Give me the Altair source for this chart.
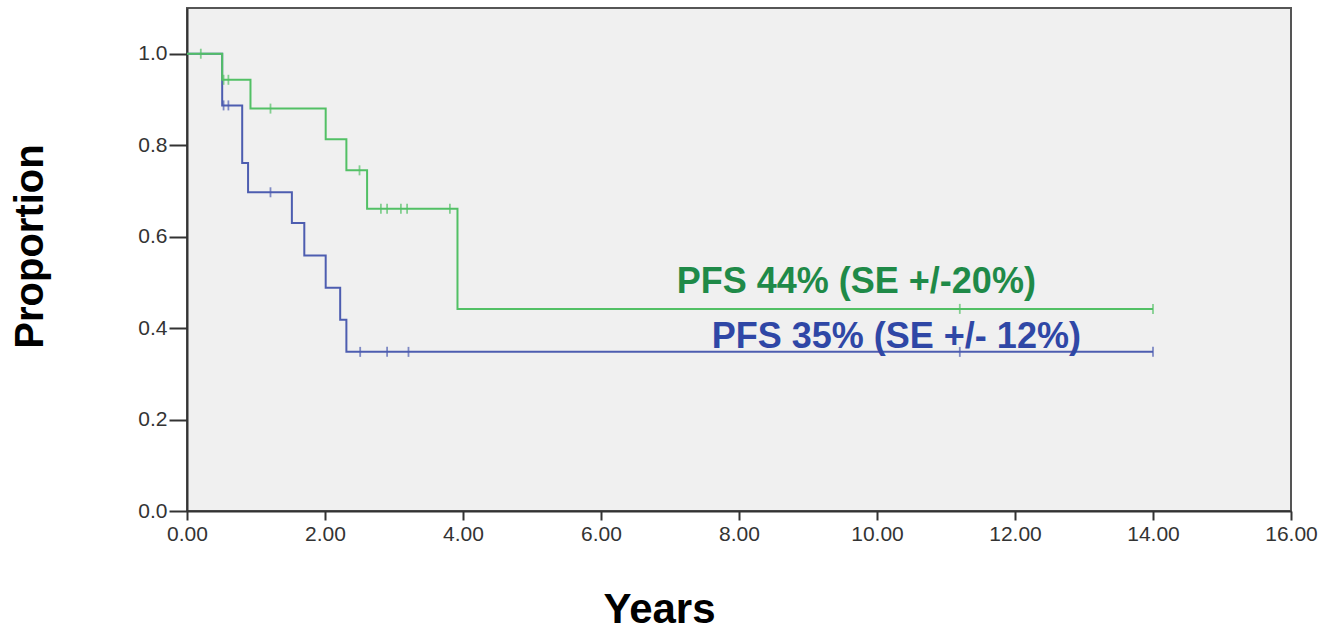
import altair as alt
import pandas as pd

# Kaplan-Meier step curves
green_times = [0, 0.51, 0.92, 2.01, 2.31, 2.61, 3.92, 14.0]
green_surv = [1.0, 0.943, 0.880, 0.813, 0.745, 0.661, 0.442, 0.442]
green_cens_t = [0.2, 0.53, 0.6, 1.21, 2.50, 2.81, 2.90, 3.10, 3.19, 3.81, 11.2, 14.0]

blue_times = [0, 0.51, 0.80, 0.885, 1.52, 1.70, 2.01, 2.22, 2.31, 14.0]
blue_surv = [1.0, 0.887, 0.761, 0.697, 0.630, 0.559, 0.488, 0.418, 0.348, 0.348]
blue_cens_t = [0.53, 0.6, 1.21, 2.51, 2.90, 3.21, 11.2, 14.0]

labels = ["PFS 44% (SE +/-20%)", "PFS 35% (SE +/- 12%)"]
label_x = [9.70, 10.28]
label_y = [0.50, 0.38]

x_ticks = [0, 2, 4, 6, 8, 10, 12, 14, 16]
y_ticks = [0.0, 0.2, 0.4, 0.6, 0.8, 1.0]

GREEN = "#52c065"
BLUE = "#4d5db0"
GREEN_TXT = "#1f8a48"
BLUE_TXT = "#2f47a6"


def step_value(times, surv, t):
    v = surv[0]
    for ti, si in zip(times, surv):
        if ti <= t:
            v = si
    return v


green_df = pd.DataFrame({"t": green_times, "s": green_surv})
blue_df = pd.DataFrame({"t": blue_times, "s": blue_surv})
green_c = pd.DataFrame({"t": green_cens_t,
                        "s": [step_value(green_times, green_surv, t) for t in green_cens_t]})
blue_c = pd.DataFrame({"t": blue_cens_t,
                       "s": [step_value(blue_times, blue_surv, t) for t in blue_cens_t]})
texts = pd.DataFrame({"label": labels, "t": label_x, "s": label_y})

x_enc = alt.X(
    "t:Q",
    scale=alt.Scale(domain=[0, 16], nice=False, zero=False),
    axis=alt.Axis(
        values=x_ticks, format=".2f", title="Years", grid=False,
        labelFontSize=21, labelFont="Liberation Sans", labelColor="#333333",
        tickSize=9, tickWidth=2, tickColor="#333333",
        domainColor="#333333", domainWidth=2, labelPadding=3,
        titleFontSize=42, titleFont="Liberation Sans", titleFontWeight="bold",
        titleColor="#000000", titleX=472, titleY=98, titleBaseline="middle",
        titleAnchor="middle", labelFlush=False,
    ),
)
y_enc = alt.Y(
    "s:Q",
    scale=alt.Scale(domain=[0, 1.1], nice=False, zero=True),
    axis=alt.Axis(
        values=y_ticks, format=".1f", title="Proportion", grid=False,
        labelFontSize=21, labelFont="Liberation Sans", labelColor="#333333",
        tickSize=18, tickWidth=2, tickColor="#333333",
        domainColor="#333333", domainWidth=2, labelPadding=2,
        titleFontSize=40, titleFont="Liberation Sans", titleFontWeight="bold",
        titleColor="#000000", titleX=-157, titleY=238, titleBaseline="middle",
        titleAngle=-90, labelFlush=False,
    ),
)

blue_line = alt.Chart(blue_df).mark_line(
    interpolate="step-after", strokeWidth=2, color=BLUE
).encode(x=x_enc, y=y_enc)
green_line = alt.Chart(green_df).mark_line(
    interpolate="step-after", strokeWidth=2, color=GREEN
).encode(x="t:Q", y="s:Q")

blue_ticks = alt.Chart(blue_c).mark_tick(
    orient="vertical", size=10, thickness=1.8, color=BLUE
).encode(x="t:Q", y="s:Q")
green_ticks = alt.Chart(green_c).mark_tick(
    orient="vertical", size=10, thickness=1.8, color=GREEN
).encode(x="t:Q", y="s:Q")

text = alt.Chart(texts).mark_text(
    font="Liberation Sans", fontWeight="bold", fontSize=36, align="center", baseline="middle"
).encode(
    x="t:Q", y="s:Q", text="label:N",
    color=alt.Color("label:N", scale=alt.Scale(domain=labels, range=[GREEN_TXT, BLUE_TXT]),
                    legend=None),
)

chart = (
    alt.layer(blue_line, blue_ticks, green_line, green_ticks, text)
    .properties(
        width=1104, height=503,
        autosize=alt.AutoSizeParams(type="none"),
        padding={"left": 187, "top": 8, "right": 47, "bottom": 122},
        background="white",
    )
    .configure_view(fill="#f0f0f0", stroke="#555555", strokeWidth=2)
)

chart.save("out.html", embed_options={"renderer": "svg", "actions": False})
